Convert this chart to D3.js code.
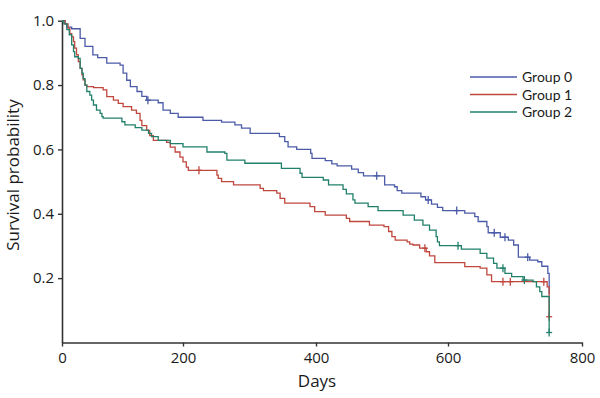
<!DOCTYPE html>
<html>
<head>
<meta charset="utf-8">
<script src="https://cdn.jsdelivr.net/npm/d3@7"></script>
<style>
  body { margin: 0; background: #fff; }
  svg text { font-family: "Open Sans", Lato, sans-serif; fill: #1a1a1a; }
</style>
</head>
<body>
<script>
// Kaplan-Meier step data (days, survival)
const groups = ["Group 0", "Group 1", "Group 2"];
const colors = ["#4b5ba8", "#c0473e", "#21806a"];

const g0Days = [0, 5, 8, 16, 30, 38, 51, 59, 74, 96, 101, 107, 113, 124, 132, 140, 159, 167, 179, 192,
  230, 258, 278, 288, 301, 345, 353, 358, 371, 392, 394, 414, 424, 432, 454, 464, 472, 504, 519, 523, 530,
  559, 566, 575, 584, 592, 625, 640, 645, 658, 660, 678, 690, 698, 705, 722, 734, 740, 749, 751];
const g0Surv = [1.0, 0.99, 0.98, 0.975, 0.945, 0.92, 0.894, 0.885, 0.868, 0.862, 0.837, 0.815, 0.795, 0.78, 0.765, 0.753, 0.745, 0.722, 0.712, 0.70,
  0.69, 0.685, 0.676, 0.666, 0.65, 0.64, 0.624, 0.608, 0.60, 0.588, 0.572, 0.565, 0.555, 0.549, 0.539, 0.528, 0.518, 0.49, 0.484, 0.472, 0.464,
  0.453, 0.443, 0.43, 0.42, 0.41, 0.402, 0.391, 0.376, 0.36, 0.341, 0.327, 0.318, 0.303, 0.265, 0.256, 0.251, 0.237, 0.215, 0.15];
const g0Censor = [142, 492, 570, 613, 669, 685, 719];

const g1Days = [0, 5, 10, 13, 16, 19, 21, 24, 27, 30, 33, 35, 38, 41, 52, 68, 74, 85, 93, 101, 115, 123, 129, 132, 140, 145, 151,
  173, 179, 187, 195, 200, 205, 208, 251, 253, 258, 276, 316, 321, 341, 346, 353, 391, 398, 414, 446, 451, 481, 503, 510, 515, 520,
  538, 542, 547, 557, 567, 572, 580, 625, 648, 658, 665, 748, 751];
const g1Surv = [1.0, 0.99, 0.977, 0.96, 0.95, 0.935, 0.915, 0.894, 0.873, 0.852, 0.832, 0.816, 0.80, 0.795, 0.792, 0.785, 0.764, 0.753, 0.743, 0.733, 0.722, 0.712, 0.69, 0.674, 0.659, 0.643, 0.628,
  0.622, 0.607, 0.592, 0.576, 0.561, 0.545, 0.535, 0.52, 0.51, 0.50, 0.49, 0.479, 0.472, 0.464, 0.448, 0.433, 0.422, 0.407, 0.396, 0.386, 0.376, 0.365, 0.36, 0.345, 0.329, 0.318,
  0.313, 0.306, 0.303, 0.293, 0.282, 0.269, 0.248, 0.236, 0.231, 0.21, 0.189, 0.173, 0.08];
const g1Censor = [224, 565, 682, 693, 743, 751];

const g2Days = [0, 3, 8, 12, 16, 19, 21, 27, 30, 33, 35, 38, 41, 46, 49, 52, 57, 63, 66, 68, 99, 104, 121, 132, 143, 148, 159, 179, 200,
  236, 263, 266, 293, 348, 376, 379, 411, 419, 441, 446, 456, 459, 479, 494, 532, 549, 562, 572, 582, 584, 587, 620, 648, 658, 668, 673,
  685, 695, 712, 727, 732, 737, 740, 751];
const g2Surv = [1.0, 0.99, 0.972, 0.956, 0.925, 0.904, 0.888, 0.883, 0.852, 0.837, 0.82, 0.80, 0.78, 0.769, 0.753, 0.738, 0.722, 0.712, 0.702, 0.697, 0.686, 0.676, 0.668, 0.66, 0.65, 0.64, 0.628, 0.618, 0.608,
  0.592, 0.588, 0.567, 0.557, 0.541, 0.526, 0.513, 0.505, 0.49, 0.476, 0.462, 0.443, 0.433, 0.422, 0.41, 0.396, 0.38, 0.365, 0.349, 0.329, 0.313, 0.301, 0.29, 0.277, 0.262, 0.246, 0.231,
  0.215, 0.205, 0.194, 0.189, 0.173, 0.158, 0.143, 0.031];
const g2Censor = [615, 682, 714, 751];

const xTicks = [0, 200, 400, 600, 800];
const yTicks = [0.2, 0.4, 0.6, 0.8, 1.0];

const width = 600, height = 398;

const svg = d3.select("body").append("svg")
  .attr("width", width)
  .attr("height", height);

// the printed axis is not evenly spaced between 0 and 200, so map per tick
const x = d3.scaleLinear()
  .domain(xTicks)
  .range([62, 183, 316, 448, 582]);
const y = d3.scaleLinear()
  .domain([0, 1])
  .range([342.5, 20.7]);

// axes
const xAxis = svg.append("g")
  .attr("transform", "translate(0," + y(0) + ")")
  .call(d3.axisBottom(x).tickValues(xTicks).tickSize(4).tickSizeOuter(0).tickPadding(6));
const yAxis = svg.append("g")
  .attr("transform", "translate(" + x(0) + ",0)")
  .call(d3.axisLeft(y).tickValues(yTicks).tickFormat(d3.format(".1f")).tickSize(4).tickSizeOuter(0).tickPadding(4));

[xAxis, yAxis].forEach(a => {
  a.select(".domain").attr("stroke", "#333").attr("stroke-width", 1.6);
  a.selectAll(".tick line").attr("stroke", "#333").attr("stroke-width", 1.4);
  a.selectAll(".tick text").style("font-size", "15px").attr("fill", "#1a1a1a");
});

svg.append("text")
  .attr("x", 317)
  .attr("y", 387)
  .attr("text-anchor", "middle")
  .style("font-size", "17px")
  .text("Days");

svg.append("text")
  .attr("transform", "translate(19,175) rotate(-90)")
  .attr("text-anchor", "middle")
  .style("font-size", "17px")
  .text("Survival probability");

// curves
const series = [
  {days: g0Days, surv: g0Surv, censor: g0Censor},
  {days: g1Days, surv: g1Surv, censor: g1Censor},
  {days: g2Days, surv: g2Surv, censor: g2Censor}
];

const line = d3.line()
  .x(d => x(d[0]))
  .y(d => y(d[1]))
  .curve(d3.curveStepAfter);

const bisect = d3.bisector(d => d).right;

series.forEach((s, i) => {
  const pts = s.days.map((d, j) => [d, s.surv[j]]);
  svg.append("path")
    .datum(pts)
    .attr("fill", "none")
    .attr("stroke", colors[i])
    .attr("stroke-width", 1.3)
    .attr("d", line);

  // censor marks as small crosses on the step curve
  const marks = s.censor.map(c => [c, s.surv[Math.max(0, bisect(s.days, c) - 1)]]);
  const g = svg.append("g").attr("stroke", colors[i]).attr("stroke-width", 1.3);
  g.selectAll(".v").data(marks).enter().append("line")
    .attr("x1", d => x(d[0])).attr("x2", d => x(d[0]))
    .attr("y1", d => y(d[1]) - 4).attr("y2", d => y(d[1]) + 4);
  g.selectAll(".h").data(marks).enter().append("line")
    .attr("x1", d => x(d[0]) - 3).attr("x2", d => x(d[0]) + 3)
    .attr("y1", d => y(d[1])).attr("y2", d => y(d[1]));
});

// legend
const legend = svg.append("g").attr("transform", "translate(470,77)");
groups.forEach((name, i) => {
  legend.append("line")
    .attr("x1", 0).attr("x2", 47)
    .attr("y1", i * 17.5).attr("y2", i * 17.5)
    .attr("stroke", colors[i])
    .attr("stroke-width", 1.5);
  legend.append("text")
    .attr("x", 52)
    .attr("y", i * 17.5 + 5)
    .style("font-family", "Lato, sans-serif")
    .style("font-size", "14px")
    .text(name);
});
</script>
</body>
</html>
